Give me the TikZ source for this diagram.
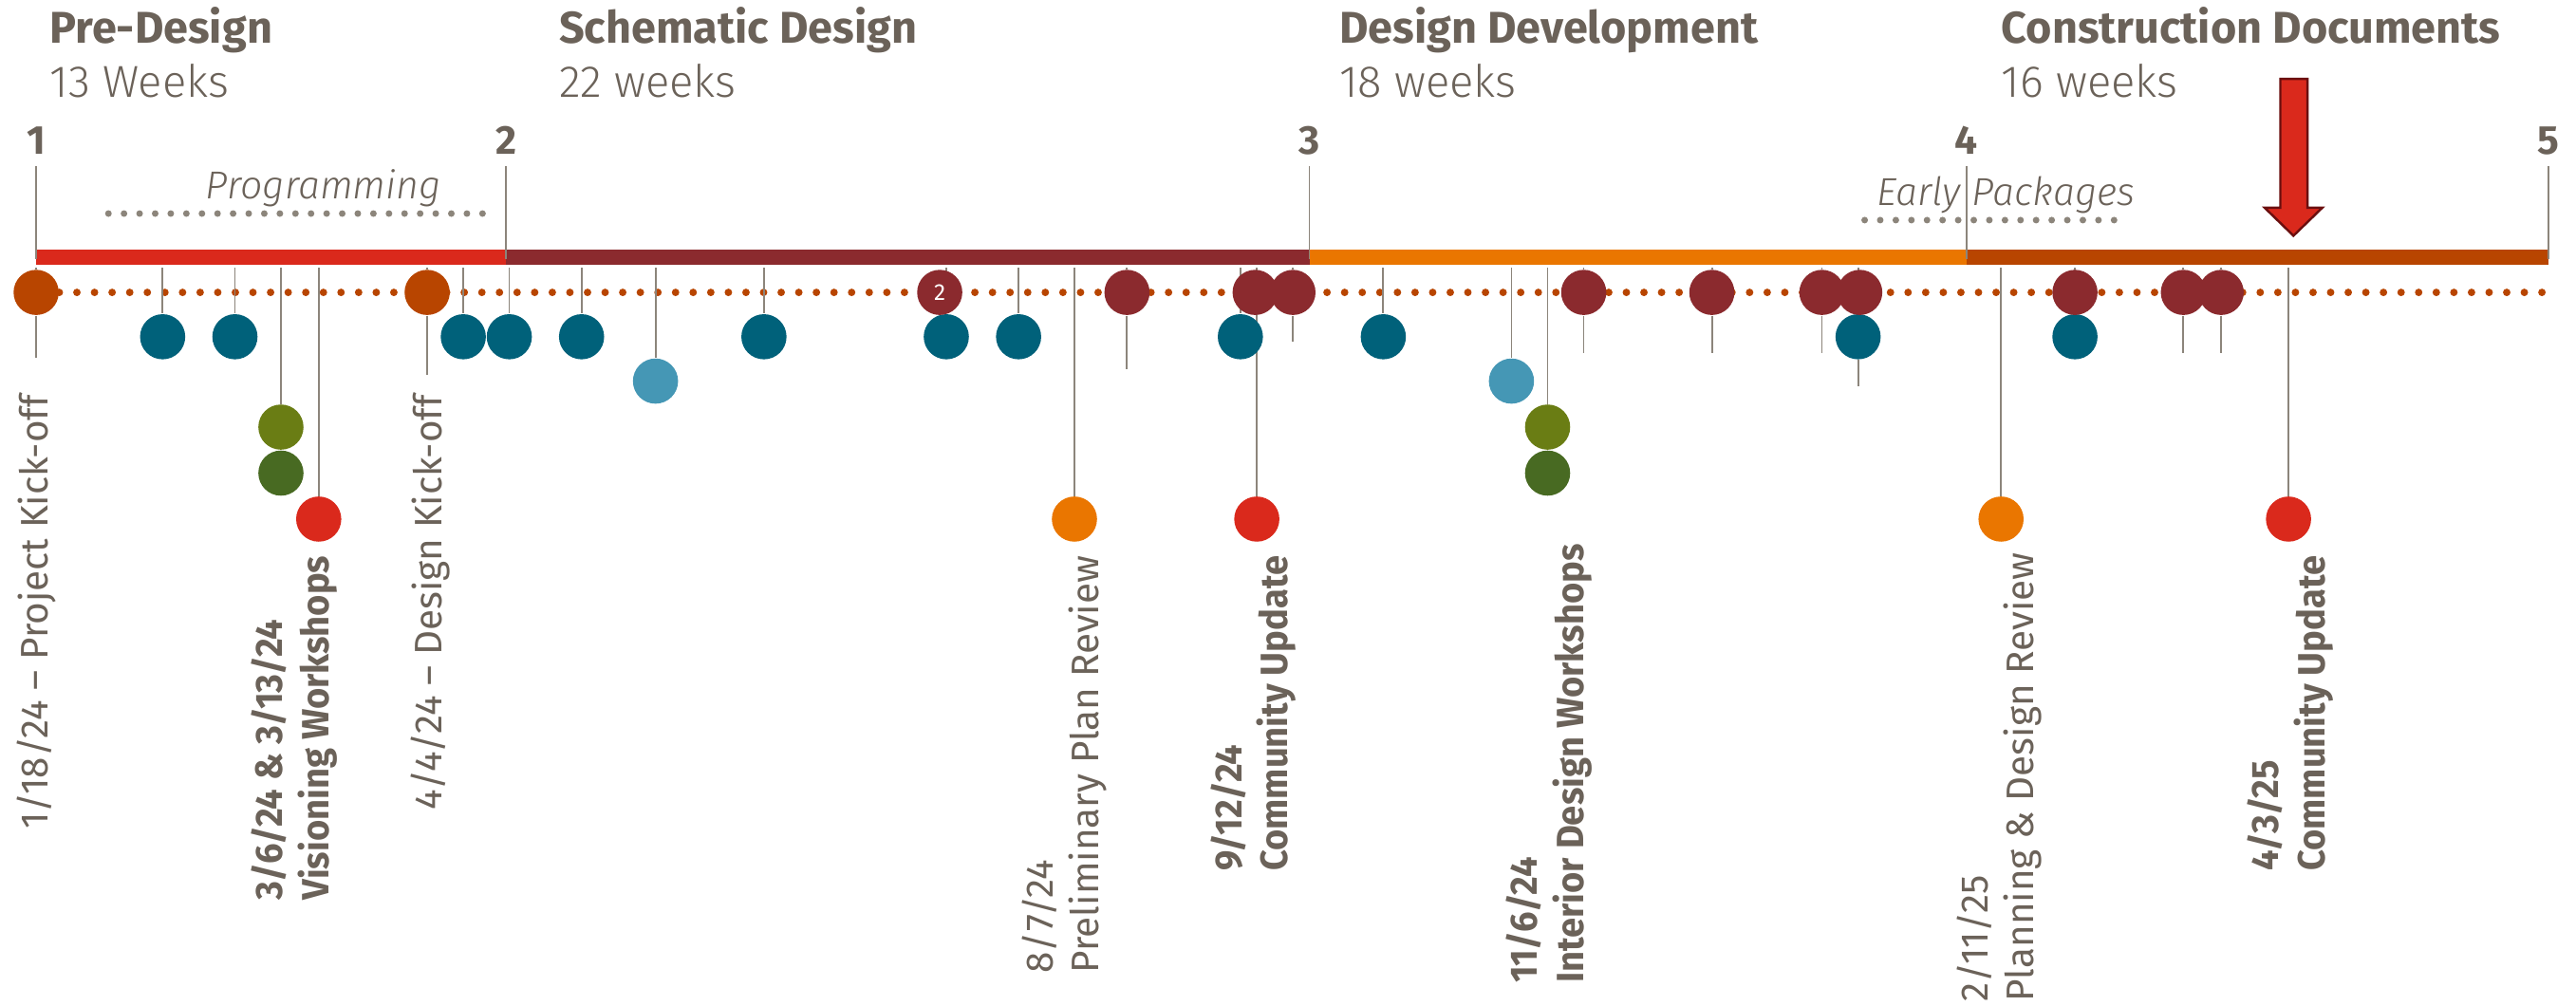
\documentclass[tikz,border=0pt]{standalone}
\usepackage{fontspec}
\setmainfont{Fira Sans}
\newfontfamily\narrow[FakeStretch=0.95]{Fira Sans}
\newfontfamily\light{Fira Sans Light}
\usetikzlibrary{backgrounds}
\definecolor{txt}{HTML}{6B6259}
\definecolor{stemgray}{HTML}{8C857B}
\definecolor{predes}{HTML}{DA291C}
\definecolor{schem}{HTML}{8B2A2E}
\definecolor{devel}{HTML}{EA7600}
\definecolor{constr}{HTML}{B84500}
\definecolor{teal}{HTML}{00617A}
\definecolor{sky}{HTML}{4597B5}
\definecolor{olive}{HTML}{6A7D14}
\definecolor{moss}{HTML}{486A22}
\definecolor{arrowedge}{HTML}{6B0F0F}

\begin{document}
\begin{tikzpicture}[x=0.02cm,y=-0.02cm]
		\tikzstyle{every node}=[text=txt, inner sep=0pt];
		\tikzstyle{phase}=[anchor=base west, font=\bfseries\fontsize{15.4}{18}\selectfont];
		\tikzstyle{weeks}=[anchor=base west, font=\light\fontsize{15.5}{18}\selectfont];
		\tikzstyle{milestone}=[anchor=base, font=\bfseries\fontsize{14}{16}\selectfont];
		\tikzstyle{spanlabel}=[anchor=base, font=\light\itshape\fontsize{13.5}{15}\selectfont];
		\tikzstyle{span}=[draw=stemgray, line width=2.3pt, line cap=round, dash pattern=on 0pt off 5.4pt];
		\tikzstyle{dotline}=[draw=constr, line width=2.6pt, line cap=round, dash pattern=on 0pt off 6.1pt];
		\tikzstyle{stem}=[draw=stemgray, line width=0.6pt];
		\tikzstyle{dot}=[circle, minimum size=0.55cm];
		\tikzstyle{event}=[rotate=90, anchor=east, align=left, font=\fontsize{13.3}{16}\selectfont];
		\tikzstyle{eventbold}=[event, font=\narrow\bfseries\fontsize{13.2}{16}\selectfont];
		\useasboundingbox (0,0) rectangle (1568,612);

		\node[phase] (predesign) at (30,26) {Pre-Design};
		\node[weeks] (predesignweeks) at (30,59) {13 Weeks};
		\node[phase] (schematic) at (340,26) {Schematic Design};
		\node[weeks] (schematicweeks) at (340,59) {22 weeks};
		\node[phase] (development) at (815,26) {Design Development};
		\node[weeks] (developmentweeks) at (815,59) {18 weeks};
		\node[phase] (construction) at (1218,26) {Construction Documents};
		\node[weeks] (constructionweeks) at (1218,59) {16 weeks};

		\coordinate (bar) at (0,158);
		\coordinate (top) at (0,163);
		\coordinate (end) at (1551,178);
		\fill[predes] (22,152) rectangle (308,161);
		\fill[schem] (308,152) rectangle (797,161);
		\fill[devel] (797,152) rectangle (1197,161);
		\fill[constr] (1197,152) rectangle (1551,161);

		\node[milestone] (m1) at (22,94) {1};
		\node[milestone] (m2) at (308,94) {2};
		\node[milestone] (m3) at (797,94) {3};
		\node[milestone] (m4) at (1197,94) {4};
		\node[milestone] (m5) at (1551,94) {5};
		\draw[stem] ([yshift=-4pt]m1.base) -- (m1 |- bar);
		\draw[stem] ([yshift=-4pt]m2.base) -- (m2 |- bar);
		\draw[stem] ([yshift=-4pt]m3.base) -- (m3 |- bar);
		\draw[stem] ([yshift=-4pt]m4.base) -- (m4 |- bar);
		\draw[stem] ([yshift=-4pt]m5.base) -- (m5 |- bar);

		\node[spanlabel] (programming) at (197,121) {Programming};
		\draw[span] (66,130) -- (300,130);
		\node[spanlabel] (earlypackages) at (1221,125) {Early Packages};
		\draw[span] (1135,134) -- (1296,134);

		\filldraw[fill=predes, draw=arrowedge, line width=0.8pt] (1388,48) -- (1404.5,48) -- (1404.5,126.5) -- (1413.5,126.5) -- (1396,143.5) -- (1378.5,126.5) -- (1388,126.5) -- cycle;

		\node[dot, fill=constr] (kickoff1) at (22,178) {};
		\node[dot, fill=teal] (t1) at (99,205) {};
		\node[dot, fill=teal] (t2) at (143,205) {};
		\node[dot, fill=olive] (g1) at (171,260) {};
		\node[dot, fill=moss] (h1) at (171,288) {};
		\node[dot, fill=predes] (visioning) at (194,316) {};
		\node[dot, fill=constr] (kickoff2) at (260,178) {};
		\node[dot, fill=teal] (t3) at (282,205) {};
		\node[dot, fill=teal] (t4) at (310,205) {};
		\node[dot, fill=teal] (t5) at (354,205) {};
		\node[dot, fill=sky] (s1) at (399,232) {};
		\node[dot, fill=teal] (t6) at (465,205) {};
		\node[dot, fill=teal] (t7) at (576,205) {};
		\node[dot, fill=schem, text=white, font=\fontsize{8}{8}\selectfont] (w1) at (572,178) {2};
		\node[dot, fill=teal] (t8) at (620,205) {};
		\node[dot, fill=devel] (planreview) at (654,316) {};
		\node[dot, fill=schem] (w2) at (686,178) {};
		\node[dot, fill=teal] (t9) at (755,205) {};
		\node[dot, fill=schem] (w3) at (764,178) {};
		\node[dot, fill=predes] (update1) at (765,316) {};
		\node[dot, fill=schem] (w4) at (787,178) {};
		\node[dot, fill=teal] (t10) at (842,205) {};
		\node[dot, fill=sky] (s2) at (920,232) {};
		\node[dot, fill=olive] (g2) at (942,260) {};
		\node[dot, fill=moss] (h2) at (942,288) {};
		\node[dot, fill=schem] (w5) at (964,178) {};
		\node[dot, fill=schem] (w6) at (1042,178) {};
		\node[dot, fill=schem] (w7) at (1109,178) {};
		\node[dot, fill=teal] (t11) at (1131,205) {};
		\node[dot, fill=schem] (w8) at (1132,178) {};
		\node[dot, fill=devel] (designreview) at (1218,316) {};
		\node[dot, fill=teal] (t12) at (1263,205) {};
		\node[dot, fill=schem] (w9) at (1263,178) {};
		\node[dot, fill=schem] (w10) at (1329,178) {};
		\node[dot, fill=schem] (w11) at (1352,178) {};
		\node[dot, fill=predes] (update2) at (1393,316) {};

		\begin{scope}[on background layer]
		\draw[dotline] (kickoff1) -- (end);
		\draw[stem] (kickoff1 |- top) -- (kickoff1) -- ++(0,40);
		\draw[stem] (t1 |- top) -- (t1);
		\draw[stem] (t2 |- top) -- (t2);
		\draw[stem] (g1 |- top) -- (g1);
		\draw[stem] (visioning |- top) -- (visioning);
		\draw[stem] (kickoff2 |- top) -- (kickoff2) -- ++(0,50);
		\draw[stem] (t3 |- top) -- (t3);
		\draw[stem] (t4 |- top) -- (t4);
		\draw[stem] (t5 |- top) -- (t5);
		\draw[stem] (s1 |- top) -- (s1);
		\draw[stem] (t6 |- top) -- (t6);
		\draw[stem] (t7 |- top) -- (t7);
		\draw[stem] (t8 |- top) -- (t8);
		\draw[stem] (planreview |- top) -- (planreview);
		\draw[stem] (w2 |- top) -- (w2) -- ++(0,47);
		\draw[stem] (t9 |- top) -- (t9);
		\draw[stem] (update1 |- top) -- (update1);
		\draw[stem] (w4 |- top) -- (w4) -- ++(0,30);
		\draw[stem] (t10 |- top) -- (t10);
		\draw[stem] (s2 |- top) -- (s2);
		\draw[stem] (g2 |- top) -- (g2);
		\draw[stem] (w5 |- top) -- (w5) -- ++(0,37);
		\draw[stem] (w6 |- top) -- (w6) -- ++(0,37);
		\draw[stem] (w7 |- top) -- (w7) -- ++(0,37);
		\draw[stem] (t11 |- top) -- (t11) -- ++(0,30);
		\draw[stem] (designreview |- top) -- (designreview);
		\draw[stem] (t12 |- top) -- (t12);
		\draw[stem] (w10 |- top) -- (w10) -- ++(0,37);
		\draw[stem] (w11 |- top) -- (w11) -- ++(0,37);
		\draw[stem] (update2 |- top) -- (update2);
		\end{scope}

		\node[event] (kickoff1label) at (22,240) {1/18/24 – Project Kick-off};
		\node[eventbold] (visioninglabel) at (179,338) {3/6/24 \& 3/13/24\\Visioning Workshops};
		\node[event] (kickoff2label) at (262,240) {4/4/24 – Design Kick-off};
		\node[event] (planreviewlabel) at (648,338) {8/7/24\\Preliminary Plan Review};
		\node[eventbold] (update1label) at (763,338) {9/12/24\\Community Update};
		\node[eventbold] (interiorlabel) at (943,331) {11/6/24\\Interior Design Workshops};
		\node[event] (designreviewlabel) at (1217,336) {2/11/25\\Planning \& Design Review};
		\node[eventbold] (update2label) at (1394,338) {4/3/25\\Community Update};
	\end{tikzpicture}
\end{document}
